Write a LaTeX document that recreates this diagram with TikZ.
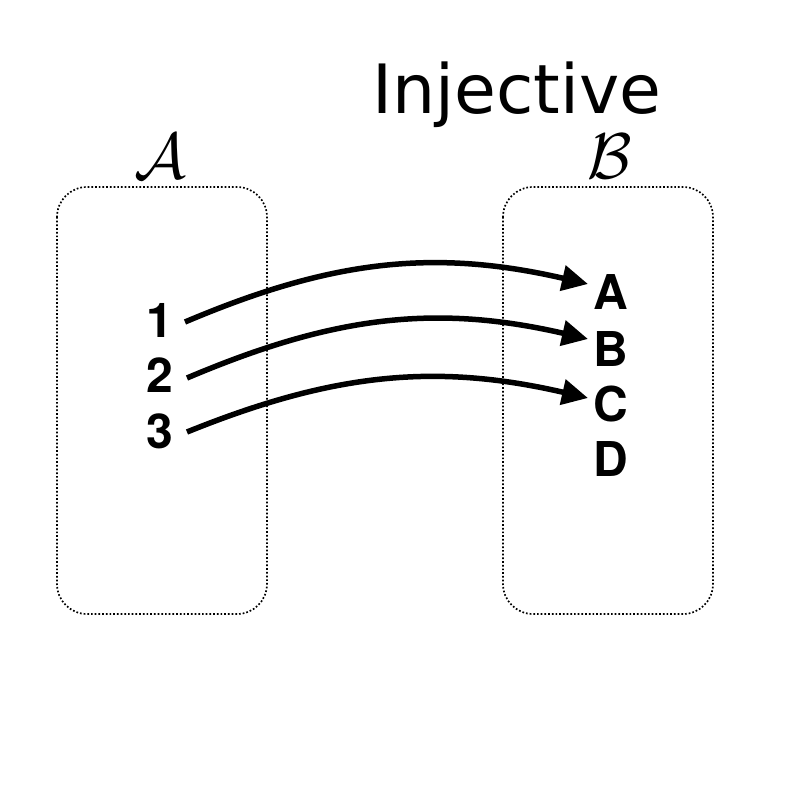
\documentclass[tikz,border=0pt]{standalone}
\usepackage{fontspec}
\setmainfont{TeX Gyre Heros}
\newfontfamily\titlefont{DejaVu Sans}
\usetikzlibrary{arrows.meta}
\begin{document}
\begin{tikzpicture}[x=1pt,y=-1pt,
  setbox/.style={draw,dotted,line width=1.7pt,rounded corners=30pt},
  elem/.style={font=\fontsize{48}{48}\selectfont\bfseries,inner sep=0pt},
  setname/.style={font=\Huge,scale=2.6,inner sep=0pt},
  maparrow/.style={line width=5.5pt,-{Triangle[length=26pt,width=25pt]}}]
\useasboundingbox (0,0) rectangle (804,804);
\draw[setbox] (57,187) rectangle (267,614);
\draw[setbox] (503,187) rectangle (713,614);
\node[font=\titlefont\fontsize{68}{68}\selectfont,inner sep=0pt,text depth=0pt,anchor=base] (title) at (517,113) {Injective};
\node[setname] (sa) at (160,156) {$\mathcal{A}$};
\node[setname] (sb) at (610,156) {$\mathcal{B}$};
\node[elem,anchor=base] (n1) at (160,337) {1};
\node[elem,anchor=base] (n2) at (160,392) {2};
\node[elem,anchor=base] (n3) at (160,448) {3};
\node[elem,anchor=base] (eA) at (611,309) {A};
\node[elem,anchor=base] (eB) at (611,366) {B};
\node[elem,anchor=base] (eC) at (611,421) {C};
\node[elem,anchor=base] (eD) at (611,476) {D};
\coordinate (s1) at (185,322); \coordinate (t1) at (588,284);
\coordinate (s2) at (187,378); \coordinate (t2) at (588,339);
\coordinate (s3) at (187,432); \coordinate (t3) at (588,398);
\draw[maparrow] (s1) to[out=23,in=167] (t1);
\draw[maparrow] (s2) to[out=23,in=167] (t2);
\draw[maparrow] (s3) to[out=22,in=167] (t3);
\end{tikzpicture}
\end{document}
